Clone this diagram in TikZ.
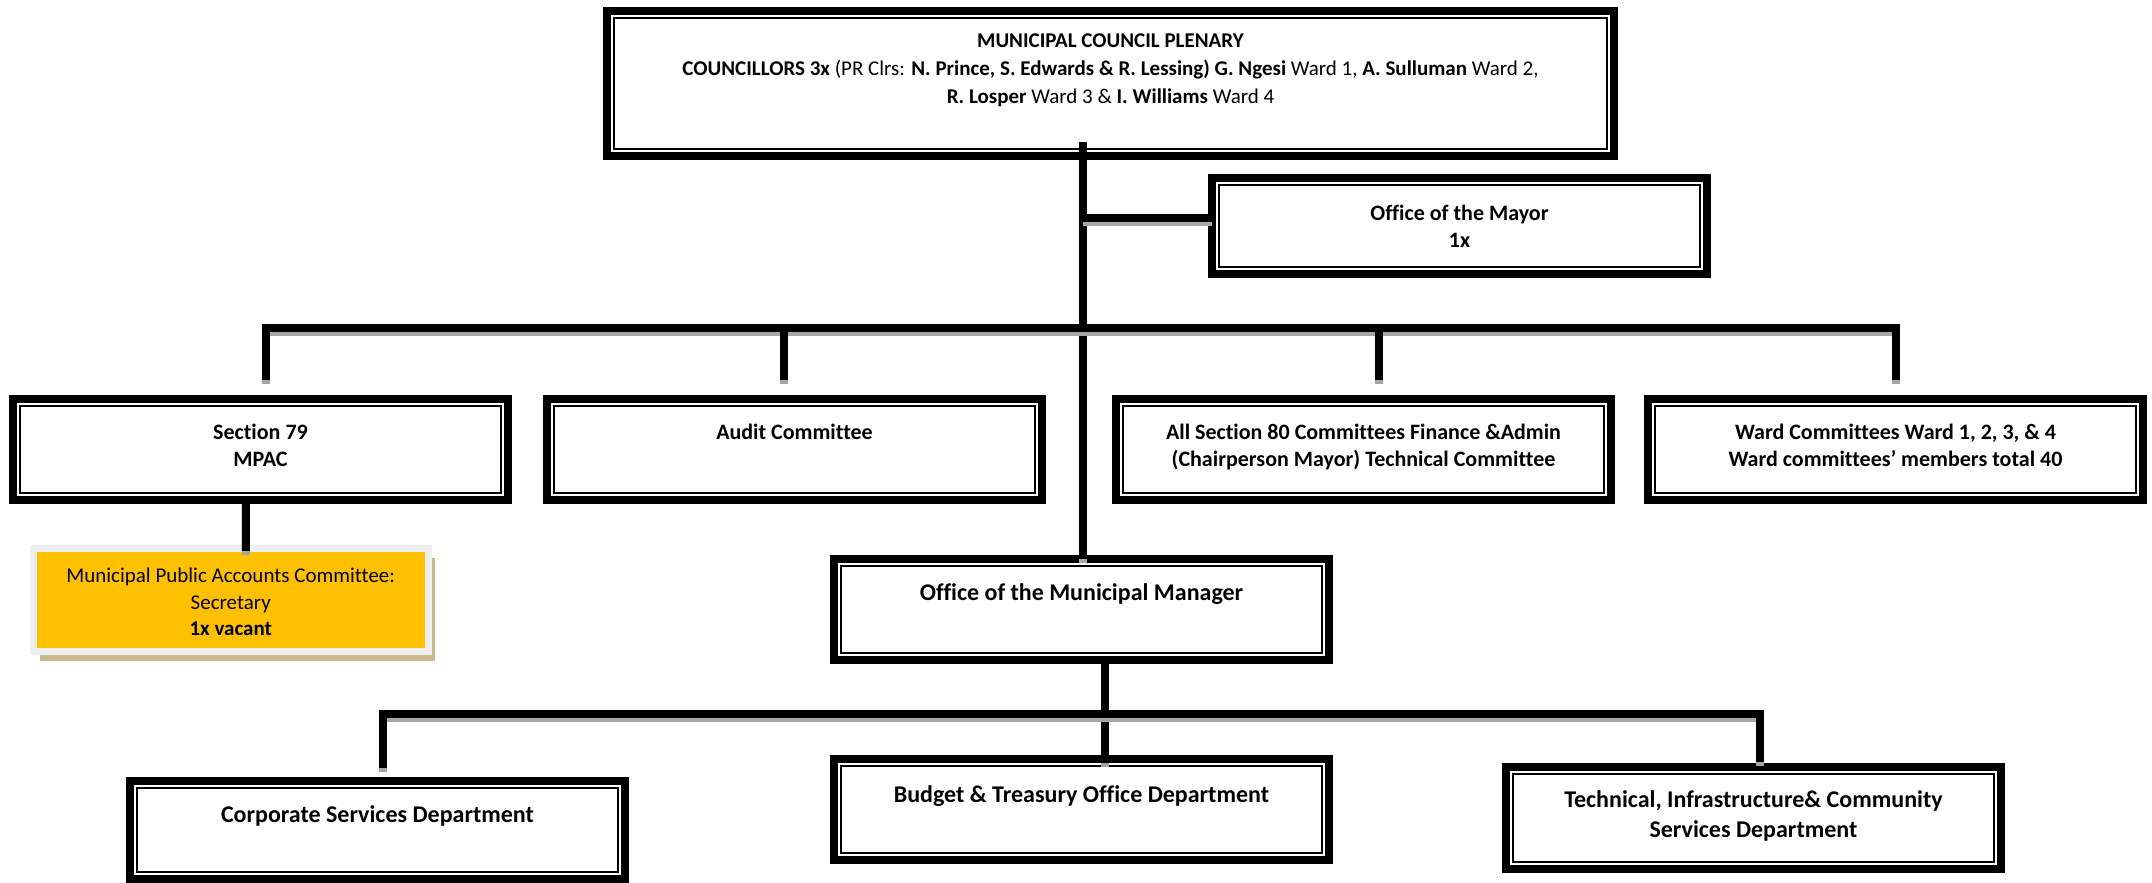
\documentclass[tikz,border=0pt]{standalone}
\usepackage{fontspec}
\setmainfont{Carlito}[Ligatures=NoCommon]
\usetikzlibrary{shadows}

\definecolor{linkshadow}{HTML}{A6A6A6}
\definecolor{mpacgold}{HTML}{FFC000}
\definecolor{mpacrim}{HTML}{EFEFEF}
\definecolor{mpacshade}{HTML}{C9BA8E}

% top-aligned, centred text block of a given size: width, height, top gap, text
\newcommand{\boxtext}[4]{\parbox[c][#2][t]{#1}{\vspace*{#3}\centering\rule{0pt}{10pt}#4\par}}

\tikzset{
  orgbox/.style={rectangle, draw=black, line width=4pt, fill=white,
    inner sep=0pt, outer sep=0pt,
    path picture={\draw[line width=0.75pt]
      ([shift={(3.4pt,3.4pt)}]path picture bounding box.south west) rectangle
      ([shift={(-3.4pt,-3.4pt)}]path picture bounding box.north east);}},
  link/.style={line width=4pt,
    preaction={draw=linkshadow, line width=4pt, transform canvas={yshift=-2pt}}},
  rowtext/.style={font=\fontsize{11}{13.5}\selectfont\bfseries},
  depttext/.style={font=\fontsize{12}{15}\selectfont\bfseries},
}

\begin{document}
\begin{tikzpicture}[x=0.5pt,y=-0.5pt]
\useasboundingbox (0,0) rectangle (2152,883);

% council and mayor
\node[orgbox, font=\fontsize{10.5}{14}\selectfont] (council) at (1110.5,83.5)
  {\boxtext{503.5pt}{72.5pt}{8.5pt}{\textbf{MUNICIPAL COUNCIL PLENARY}\\
   \textbf{COUNCILLORS 3x} (PR Clrs: \textbf{N. Prince, S. Edwards \& R. Lessing)} \textbf{G. Ngesi} Ward 1, \textbf{A. Sulluman} Ward 2,\\
   \textbf{R. Losper} Ward 3 \& \textbf{I. Williams} Ward 4}};

\node[orgbox, rowtext] (mayor) at (1459.5,226)
  {\boxtext{247.5pt}{48pt}{11pt}{Office of the Mayor\\1x}};

% committees row
\node[orgbox, rowtext] (s79) at (260.5,449.5)
  {\boxtext{247.5pt}{50.5pt}{10pt}{Section 79\\MPAC}};
\node[orgbox, rowtext] (audit) at (794.5,449.5)
  {\boxtext{247.5pt}{50.5pt}{10pt}{Audit Committee}};
\node[orgbox, rowtext] (s80) at (1363.5,449.5)
  {\boxtext{247.5pt}{50.5pt}{10pt}{All Section 80 Committees Finance \&Admin\\(Chairperson Mayor) Technical Committee}};
\node[orgbox, rowtext] (ward) at (1895.5,449.5)
  {\boxtext{247.5pt}{50.5pt}{10pt}{Ward Committees Ward 1, 2, 3, \& 4\\Ward committees’ members total 40}};

% MPAC secretary
\node[rectangle, fill=mpacgold, draw=mpacrim, line width=3.5pt, inner sep=0pt,
  drop shadow={shadow xshift=3.3pt, shadow yshift=-4.75pt, fill=mpacshade, opacity=1},
  font=\fontsize{10.5}{13.25}\selectfont] (mpacsec) at (230.75,600)
  {\boxtext{197.25pt}{51.75pt}{7.25pt}{Municipal Public Accounts Committee:\\Secretary\\\textbf{1x vacant}}};

% administration
\node[orgbox, depttext] (mm) at (1081.5,609.5)
  {\boxtext{247.5pt}{50.5pt}{10.5pt}{Office of the Municipal Manager}};
\node[orgbox, depttext] (corp) at (377.5,830)
  {\boxtext{247.5pt}{49pt}{10.5pt}{Corporate Services Department}};
\node[orgbox, depttext] (budget) at (1081.5,809.5)
  {\boxtext{247.5pt}{50.5pt}{11.5pt}{Budget \& Treasury Office Department}};
\node[orgbox, depttext] (tech) at (1753.5,818)
  {\boxtext{247.5pt}{51pt}{10pt}{Technical, Infrastructure\& Community\\Services Department}};

% connectors
\coordinate (trunktop) at ([xshift=-13.75pt,yshift=7pt]council.south);
\coordinate (mayorlink) at ([yshift=4pt]mayor.west);
\coordinate (upperbar) at (1083,327.5);
\coordinate (lowerbar) at (1105,713.5);

\draw[link] (trunktop) -- ([xshift=0.75pt]mm.north);
\draw[link] (mayorlink) -- (mayorlink -| trunktop);

\draw[link] ([xshift=2.75pt,yshift=9.5pt]s79.north) |- (upperbar)
  -| ([yshift=9.5pt]ward.north);
\draw[link] ([xshift=-5.25pt,yshift=9.5pt]audit.north) |- (upperbar);
\draw[link] ([xshift=7.75pt,yshift=9.5pt]s80.north) |- (upperbar);

\draw[link] ([xshift=-7.25pt]s79.south) -- ([xshift=7.6pt,yshift=-3pt]mpacsec.north);

\draw[link] ([xshift=11.75pt]mm.south) -- ([xshift=11.75pt,yshift=-2pt]budget.north);
\draw[link] ([xshift=2.75pt,yshift=6.5pt]corp.north) |- (lowerbar)
  -| ([xshift=3.25pt,yshift=2.5pt]tech.north);
\end{tikzpicture}
\end{document}
